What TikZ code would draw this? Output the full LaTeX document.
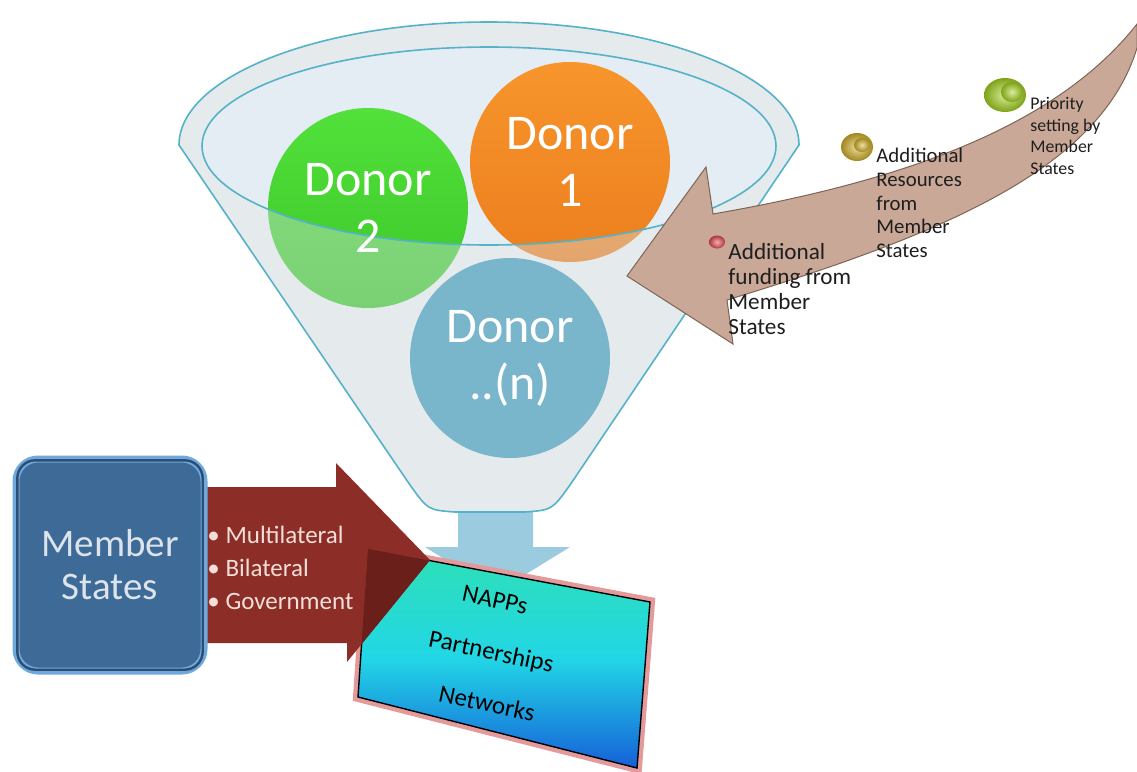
\documentclass[tikz,border=0pt]{standalone}
\usepackage{fontspec}
\setmainfont{Carlito}
\definecolor{funnelfill}{HTML}{EEF1F3}
\definecolor{innerfill}{HTML}{E3EDF3}
\definecolor{funnelline}{HTML}{55B2C8}
\definecolor{orangetop}{HTML}{F7952C}
\definecolor{orangebot}{HTML}{EC7F1E}
\definecolor{greentop}{HTML}{52E03A}
\definecolor{greenbot}{HTML}{3CC82A}
\definecolor{bluedonor}{HTML}{3B9ABB}
\definecolor{veil}{HTML}{D8E0E5}
\definecolor{downblue}{HTML}{9BCBDF}
\definecolor{msfill}{HTML}{3D6A96}
\definecolor{msedge}{HTML}{6FA8DC}
\definecolor{msdark}{HTML}{2C4E72}
\definecolor{mstext}{HTML}{DCE3EA}
\definecolor{redarrow}{HTML}{8C2D27}
\definecolor{reddark}{HTML}{6B1F1B}
\definecolor{redtext}{HTML}{F4DED8}
\definecolor{nappstop}{HTML}{2EE0B4}
\definecolor{nappsmid}{HTML}{22D6E6}
\definecolor{nappsbot}{HTML}{1560D8}
\definecolor{nappsedge}{HTML}{E49A9A}
\definecolor{brownfill}{HTML}{CAA898}
\definecolor{brownline}{HTML}{7E6456}
\definecolor{beadred}{HTML}{E8484E}
\definecolor{beadgold}{HTML}{D8B428}
\definecolor{beadgreen}{HTML}{A8D820}
\definecolor{notetext}{HTML}{1E1E1E}
\begin{document}
\begin{tikzpicture}[x=0.5pt,y=-0.5pt,
  donor/.style={circle,minimum size=100pt,inner sep=0pt},
  donortext/.style={align=center,text=white,font=\fontsize{25}{28.5}\selectfont},
  boxtext/.style={rotate=-12,font=\fontsize{12.5}{14}\selectfont,text=black},
  note/.style={anchor=west,align=left,inner sep=0pt,text=notetext},
  bead/.style={inner color=#1!45!white,outer color=#1!75!black},
  funnel path/.style={insert path={(179,145) -- (410,485) .. controls (428,510) .. (455,512) -- (525,512) .. controls (552,510) .. (570,485) -- (799,145) arc[start angle=0,end angle=-180,x radius=310,y radius=123] -- cycle}},
  rim path/.style={insert path={(489,146) ellipse[x radius=287,y radius=99]}},
  nbox path/.style={insert path={(368,549) -- (650,602) -- (637,768) -- (358,697) -- cycle}},
  red path/.style={insert path={(200,487) -- (336,487) -- (336,463) -- (430,560) -- (347,662) -- (347,643) -- (200,643) -- cycle}}]
\useasboundingbox[fill=white] (0,0) rectangle (1137,772);

% arrow out of the funnel
\fill[downblue] (458,500) -- (533,500) -- (533,547) -- (570,547) -- (497,592) -- (425,547) -- (458,547) -- cycle;

% funnel with the donors
\fill[funnelfill,funnel path];
\fill[innerfill,rim path];
\node[donor,top color=orangetop,bottom color=orangebot] (d1) at (570,162) {};
\node[donor,top color=greentop,bottom color=greenbot] (d2) at (368,208) {};
\node[donor,fill=bluedonor] (dn) at (510,358) {};
\fill[veil,opacity=0.4,even odd rule,funnel path,rim path];
\draw[funnelline,line width=0.8pt,funnel path];
\draw[funnelline,line width=0.8pt,rim path];
\node[donortext] (t1) at (d1) {Donor\\1};
\node[donortext] (t2) at (d2) {Donor\\2};
\node[donortext] (tn) at (dn) {Donor\\..(n)};

% NAPPs box
\draw[nappsedge,line width=5pt,nbox path];
\shade[top color=nappstop,bottom color=nappsbot,middle color=nappsmid,nbox path];
\draw[black,line width=0.7pt,nbox path];
\node[boxtext] (napps) at (495,600) {NAPPs};
\node[boxtext] (partners) at (491,653) {Partnerships};
\node[boxtext] (networks) at (487,703) {Networks};

% red arrow from the member states
\fill[redarrow,red path];
\begin{scope}
\clip[nbox path];
\fill[reddark,red path];
\end{scope}
\node[anchor=west,align=left,text=redtext,font=\fontsize{12.5}{16.5}\selectfont,inner sep=0pt] (kinds) at (207,568) {\textbullet\ Multilateral\\\textbullet\ Bilateral\\\textbullet\ Government};
\node[draw=msedge,fill=msfill,line width=3.5pt,rounded corners=11pt,minimum width=94pt,minimum height=106pt,align=center,text=mstext,font=\fontsize{19.5}{21.5}\selectfont] (ms) at (110,565) {Member\\States};
\draw[msdark,line width=1.2pt,rounded corners=9pt] ([shift={(2.4pt,2.4pt)}]ms.south west) rectangle ([shift={(-2.4pt,-2.4pt)}]ms.north east);

% brown arrow with the notes
\draw[fill=brownfill,draw=brownline,line width=0.5pt] (627,276) -- (706,167) -- (713,214) .. controls (880,185) and (1050,135) .. (1137,24) -- (1137,48) .. controls (1100,170) and (940,235) .. (727,300) -- (733,344) -- cycle;
\shade[bead=beadred] (717,242) ellipse[x radius=8,y radius=6.5];
\shade[bead=beadgold] (857,147) ellipse[x radius=16,y radius=14];
\shade[bead=beadgold] (862,145) ellipse[x radius=8,y radius=7];
\shade[bead=beadgreen] (1005,95) ellipse[x radius=21,y radius=17];
\shade[bead=beadgreen] (1012,92) ellipse[x radius=11,y radius=10];
\node[note,font=\fontsize{11.6}{12.6}\selectfont] (funding) at (728,289) {Additional\\funding from\\Member\\States};
\node[note,font=\fontsize{10.4}{11.8}\selectfont] (resources) at (876,203) {Additional\\Resources\\from\\Member\\States};
\node[note,font=\fontsize{8.9}{10.8}\selectfont] (priority) at (1030,136) {Priority\\setting by\\Member\\States};
\end{tikzpicture}
\end{document}
